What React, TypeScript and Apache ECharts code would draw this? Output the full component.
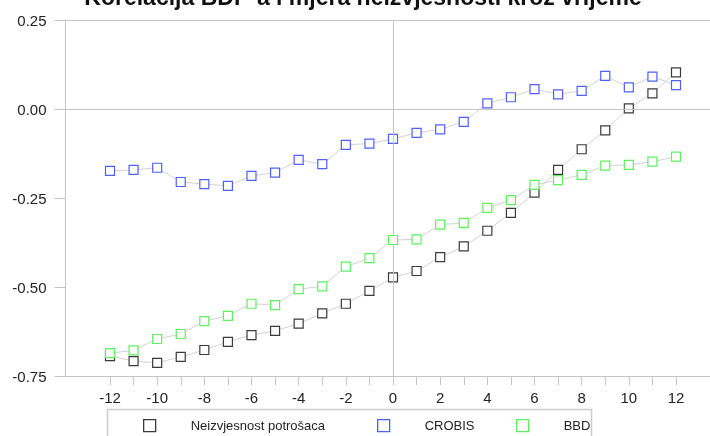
import React, { useEffect, useRef } from "react";
import * as echarts from "echarts";

const titleText = "Korelacija BDP-a i mjera neizvjesnosti kroz vrijeme";
const lags = [-12, -11, -10, -9, -8, -7, -6, -5, -4, -3, -2, -1, 0, 1, 2, 3, 4, 5, 6, 7, 8, 9, 10, 11, 12];
const seriesNames = ["Neizvjesnost potrošaca", "CROBIS", "BBD"];
const neizvjesnost = [-0.694, -0.708, -0.713, -0.696, -0.677, -0.654, -0.635, -0.623, -0.603, -0.574, -0.547, -0.511, -0.473, -0.455, -0.416, -0.386, -0.342, -0.292, -0.235, -0.171, -0.113, -0.06, 0.002, 0.044, 0.103];
const crobis = [-0.174, -0.171, -0.165, -0.205, -0.211, -0.216, -0.188, -0.179, -0.143, -0.155, -0.101, -0.097, -0.084, -0.067, -0.057, -0.036, 0.016, 0.033, 0.056, 0.041, 0.051, 0.093, 0.061, 0.091, 0.067];
const bbd = [-0.686, -0.678, -0.646, -0.632, -0.596, -0.581, -0.547, -0.551, -0.506, -0.498, -0.443, -0.419, -0.368, -0.366, -0.325, -0.32, -0.278, -0.256, -0.213, -0.2, -0.185, -0.159, -0.157, -0.148, -0.134];
const referenceLinesY = [0, 0.25];
const referenceLinesX = [0];

const colors = ["#3a3a3a", "#4f5fff", "#5ff05f"];
const FONT = "'Liberation Sans', Arial, sans-serif";

export default function App() {
  const ref = useRef<HTMLDivElement>(null);
  useEffect(() => {
    if (!ref.current) return;
    const chart = echarts.init(ref.current, null, { renderer: "svg" });
    const values = [neizvjesnost, crobis, bbd];
    const axisColor = "#c4c4c4";
    const dataSeries = seriesNames.map((name, i) => ({
      name,
      type: "line",
      xAxisIndex: 1,
      yAxisIndex: 1,
      data: lags.map((x, j) => [x, values[i][j]]),
      symbol: "rect",
      symbolSize: 9,
      clip: false,
      z: 3 + i,
      lineStyle: { color: "#d2d2d2", width: 1 },
      itemStyle: { color: "#ffffff", borderColor: colors[i], borderWidth: 1.2 },
      emphasis: { disabled: true },
      markLine:
        i === 0
          ? {
              silent: true,
              symbol: "none",
              label: { show: false },
              lineStyle: { color: axisColor, type: "solid", width: 1 },
              data: referenceLinesX.map((v) => ({ xAxis: v })),
            }
          : undefined,
    }));
    const legendLefts = [143, 377, 516];
    chart.setOption({
      animation: false,
      textStyle: { fontFamily: FONT },
      title: {
        text: titleText,
        left: 363,
        textAlign: "center",
        top: -14.5,
        padding: 0,
        textStyle: { fontSize: 23, fontWeight: "bold", color: "#111", fontFamily: FONT },
      },
      grid: [
        { left: 65.5, right: 0, top: 20, bottom: 60 },
        { left: 110, right: 34, top: 20, bottom: 60 },
      ],
      xAxis: [
        {
          type: "value",
          gridIndex: 0,
          min: -13.9,
          max: 13.44,
          axisLine: { show: true, onZero: false, lineStyle: { color: axisColor } },
          axisTick: { show: false },
          axisLabel: { show: false },
          splitLine: { show: false },
        },
        {
          type: "value",
          gridIndex: 1,
          min: -12,
          max: 12,
          interval: 1,
          axisLine: { show: false, onZero: false },
          axisTick: { show: true, length: 9, lineStyle: { color: axisColor } },
          axisLabel: {
            margin: 14,
            fontSize: 15,
            color: "#222",
            fontFamily: FONT,
            formatter: (v: number) => (v % 2 === 0 ? String(v) : ""),
          },
          splitLine: { show: false },
        },
      ],
      yAxis: [
        {
          type: "value",
          gridIndex: 0,
          min: -0.75,
          max: 0.25,
          interval: 0.25,
          axisLine: { show: true, onZero: false, lineStyle: { color: axisColor } },
          axisTick: { show: true, length: 11, lineStyle: { color: axisColor } },
          axisLabel: {
            margin: 19,
            fontSize: 15,
            color: "#222",
            fontFamily: FONT,
            formatter: (v: number) => v.toFixed(2),
          },
          splitLine: { show: false },
        },
        {
          type: "value",
          gridIndex: 1,
          min: -0.75,
          max: 0.25,
          show: false,
          axisLine: { onZero: false },
          splitLine: { show: false },
        },
      ],
      legend: seriesNames.map((name, i) => ({
        data: [name],
        left: legendLefts[i],
        top: 419,
        padding: 0,
        icon: "rect",
        itemWidth: 12,
        itemHeight: 12,
        selectedMode: false,
        itemStyle: { color: "#ffffff", borderColor: colors[i], borderWidth: 1.3 },
        textStyle: { fontSize: 13, color: "#222", fontFamily: FONT, padding: [0, 0, 0, 30] },
      })),
      graphic: [
        {
          type: "rect",
          shape: { x: 107.5, y: 409.5, width: 484, height: 40 },
          style: { fill: "none", stroke: "#cccccc", lineWidth: 1.5 },
          silent: true,
        },
      ],
      series: [
        {
          name: "refLines",
          type: "line",
          xAxisIndex: 0,
          yAxisIndex: 0,
          data: [],
          markLine: {
            silent: true,
            symbol: "none",
            label: { show: false },
            lineStyle: { color: axisColor, type: "solid", width: 1 },
            data: referenceLinesY.map((v) => ({ yAxis: v })),
          },
        },
        ...dataSeries,
      ],
    });
    return () => chart.dispose();
  }, []);
  return <div ref={ref} style={{ position: "fixed", left: 0, top: 0, width: 710, height: 436 }} />;
}
